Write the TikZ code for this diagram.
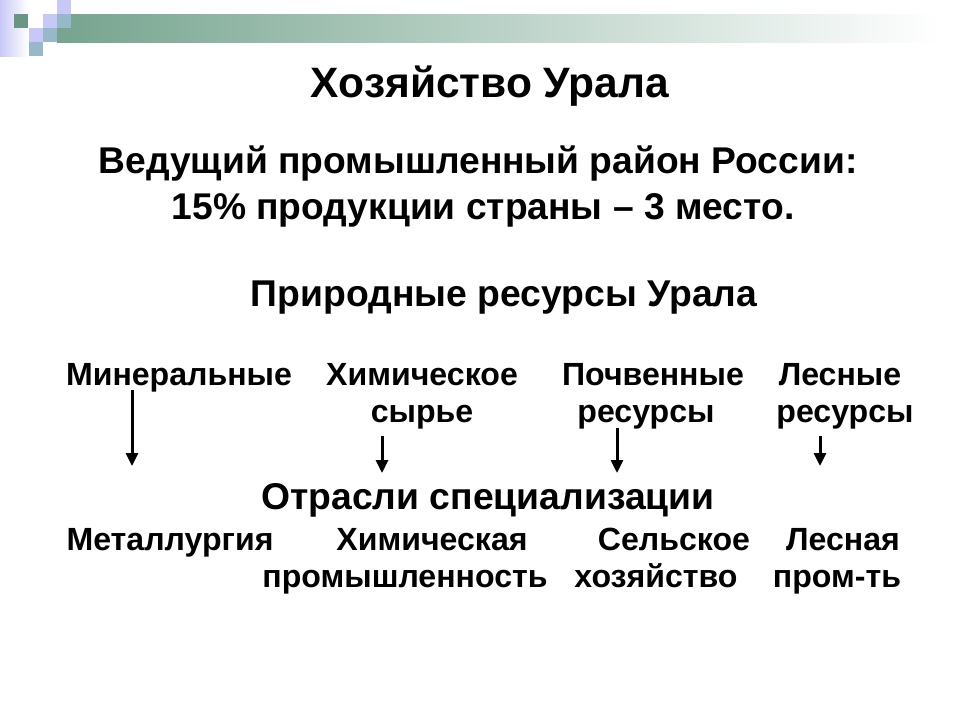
\documentclass[tikz,border=0pt]{standalone}
\usepackage{fontspec}
\setmainfont{Liberation Sans}
\usetikzlibrary{arrows.meta}
\definecolor{barg}{RGB}{118,164,143}
\definecolor{lav}{RGB}{200,200,248}
\definecolor{blu}{RGB}{150,184,200}
\definecolor{dkg}{RGB}{104,150,130}
\tikzset{
  ttl/.style={anchor=base, font=\bfseries\fontsize{42.5}{50}\selectfont},
  sub/.style={anchor=base, font=\bfseries\fontsize{37.2}{44}\selectfont},
  head/.style={anchor=base, font=\bfseries\fontsize{37.3}{44}\selectfont},
  lbl/.style={anchor=base, font=\bfseries\fontsize{32.1}{38}\selectfont},
  arr/.style={line width=3pt, -{Triangle[width=12pt,length=13pt]}}
}

\begin{document}
\begin{tikzpicture}[x=1pt,y=-1pt]
\useasboundingbox[fill=white] (0,0) rectangle (960,720);
% top bar
\shade[left color=lav, right color=white] (0,0) rectangle (28,56);
\shade[left color=barg, right color=white] (57,14) rectangle (940,42);
\foreach \x/\y/\c in {14/14/dkg, 57/0/lav, 43/14/lav, 57/14/blu, 29/28/lav, 43/28/blu, 29/42/blu}{
\fill[\c] (\x,\y) rectangle ++(14,14);
}
% text
\node[ttl] (title) at (490,97) {Хозяйство Урала};
\node[sub] (lead1) at (478,173) {Ведущий промышленный район России:};
\node[sub] (lead2) at (483,219) {15\% продукции страны – 3 место.};
\node[head] (res) at (504,306) {Природные ресурсы Урала};
\node[lbl] (min) at (179,385) {Минеральные};
\node[lbl] (chem1) at (422,385) {Химическое};
\node[lbl] (chem2) at (422,422) {сырье};
\node[lbl] (soil1) at (653,385) {Почвенные};
\node[lbl] (soil2) at (646,422) {ресурсы};
\node[lbl] (wood1) at (840,385) {Лесные};
\node[lbl] (wood2) at (845,422) {ресурсы};
\node[head] (ind) at (488,509) {Отрасли специализации};
\node[lbl] (met) at (170,550) {Металлургия};
\node[lbl] (chind1) at (432,550) {Химическая};
\node[lbl] (chind2) at (405,587) {промышленность};
\node[lbl] (agr1) at (674,550) {Сельское};
\node[lbl] (agr2) at (656,587) {хозяйство};
\node[lbl] (for1) at (843,550) {Лесная};
\node[lbl] (for2) at (837,587) {пром-ть};
% arrows
\foreach \n/\x/\ya/\yb in {1/132/390/466, 2/382/436/473, 3/617/428/473, 4/820/436/466}{
\coordinate (s\n) at (\x,\ya);
\coordinate (e\n) at (\x,\yb);
\draw[arr] (s\n) -- (e\n);
}
\end{tikzpicture}
\end{document}
